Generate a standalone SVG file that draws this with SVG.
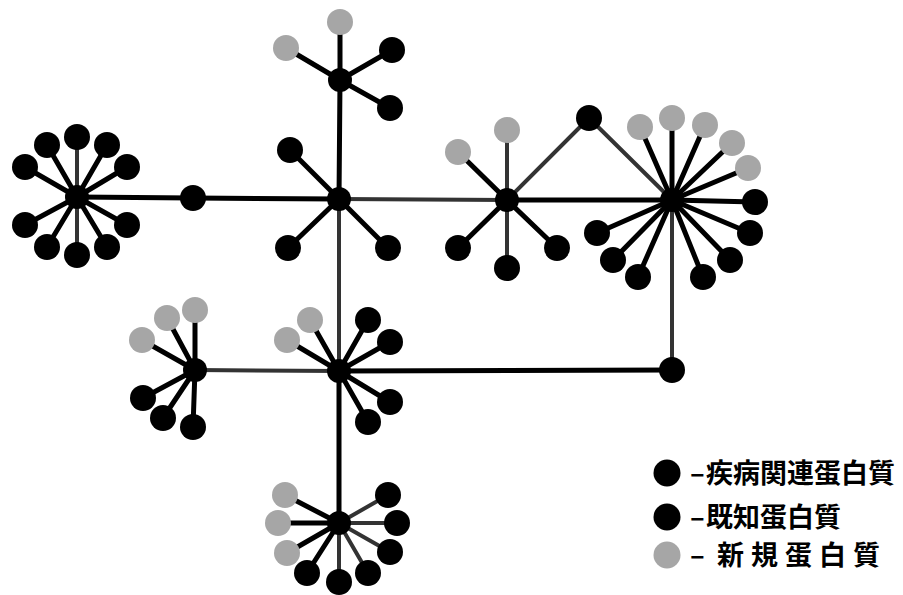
<svg xmlns="http://www.w3.org/2000/svg" width="903" height="595" viewBox="0 0 903 595">
<style>
.k{stroke:#000;stroke-width:5;fill:none;stroke-linecap:round}
.g{stroke:#333;stroke-width:4;fill:none;stroke-linecap:round}
.b{fill:#000}
.n{fill:#a6a6a6}
.h{fill:#000}
.t{font-family:"Noto Sans CJK JP","Noto Sans CJK SC",sans-serif;font-weight:700;font-size:27px;fill:#000}
</style>
<rect width="903" height="595" fill="#fff"/>
<g id="connectors">
<line class="g" x1="77" y1="197" x2="77" y2="137"/>
<line class="k" x1="77" y1="197" x2="47" y2="145"/>
<line class="k" x1="77" y1="197" x2="107" y2="145"/>
<line class="k" x1="77" y1="197" x2="25" y2="167"/>
<line class="k" x1="77" y1="197" x2="127" y2="167"/>
<line class="k" x1="77" y1="197" x2="25" y2="225"/>
<line class="k" x1="77" y1="197" x2="127" y2="225"/>
<line class="k" x1="77" y1="197" x2="47" y2="247"/>
<line class="g" x1="77" y1="197" x2="77" y2="255"/>
<line class="k" x1="77" y1="197" x2="107" y2="247"/>
<line class="k" x1="77" y1="197" x2="193" y2="198"/>
<line class="k" x1="193" y1="198" x2="339" y2="199"/>
<line class="k" x1="340" y1="80" x2="340" y2="22"/>
<line class="k" x1="340" y1="80" x2="286" y2="48"/>
<line class="k" x1="340" y1="80" x2="392" y2="50"/>
<line class="k" x1="340" y1="80" x2="390" y2="108"/>
<line class="k" x1="340" y1="80" x2="339" y2="199"/>
<line class="k" x1="339" y1="199" x2="290" y2="150"/>
<line class="k" x1="339" y1="199" x2="288" y2="248"/>
<line class="k" x1="339" y1="199" x2="388" y2="248"/>
<line class="g" x1="339" y1="199" x2="507" y2="200"/>
<line class="g" x1="339" y1="199" x2="339" y2="371"/>
<line class="k" x1="507" y1="200" x2="458" y2="152"/>
<line class="g" x1="507" y1="200" x2="507" y2="130"/>
<line class="k" x1="507" y1="200" x2="458" y2="248"/>
<line class="g" x1="507" y1="200" x2="507" y2="268"/>
<line class="k" x1="507" y1="200" x2="557" y2="248"/>
<line class="g" x1="507" y1="200" x2="589" y2="118"/>
<line class="k" x1="507" y1="200" x2="672" y2="200"/>
<line class="g" x1="589" y1="118" x2="672" y2="200"/>
<line class="k" x1="672" y1="200" x2="640" y2="127"/>
<line class="k" x1="672" y1="200" x2="672" y2="118"/>
<line class="k" x1="672" y1="200" x2="705" y2="125"/>
<line class="k" x1="672" y1="200" x2="732" y2="143"/>
<line class="k" x1="672" y1="200" x2="748" y2="168"/>
<line class="k" x1="672" y1="200" x2="755" y2="202"/>
<line class="k" x1="672" y1="200" x2="750" y2="233"/>
<line class="k" x1="672" y1="200" x2="730" y2="260"/>
<line class="k" x1="672" y1="200" x2="703" y2="277"/>
<line class="k" x1="672" y1="200" x2="638" y2="277"/>
<line class="k" x1="672" y1="200" x2="613" y2="260"/>
<line class="k" x1="672" y1="200" x2="597" y2="233"/>
<line class="g" x1="672" y1="200" x2="672" y2="370"/>
<line class="k" x1="195" y1="370" x2="142" y2="340"/>
<line class="k" x1="195" y1="370" x2="167" y2="318"/>
<line class="k" x1="195" y1="370" x2="195" y2="310"/>
<line class="k" x1="195" y1="370" x2="143" y2="398"/>
<line class="k" x1="195" y1="370" x2="163" y2="418"/>
<line class="k" x1="195" y1="370" x2="193" y2="427"/>
<line class="g" x1="195" y1="370" x2="339" y2="371"/>
<line class="k" x1="339" y1="371" x2="287" y2="340"/>
<line class="k" x1="339" y1="371" x2="310" y2="320"/>
<line class="k" x1="339" y1="371" x2="368" y2="320"/>
<line class="k" x1="339" y1="371" x2="390" y2="342"/>
<line class="k" x1="339" y1="371" x2="390" y2="402"/>
<line class="k" x1="339" y1="371" x2="368" y2="422"/>
<line class="k" x1="339" y1="371" x2="672" y2="370"/>
<line class="k" x1="339" y1="371" x2="339" y2="523"/>
<line class="k" x1="339" y1="523" x2="285" y2="495"/>
<line class="k" x1="339" y1="523" x2="278" y2="523"/>
<line class="k" x1="339" y1="523" x2="287" y2="553"/>
<line class="k" x1="339" y1="523" x2="307" y2="573"/>
<line class="g" x1="339" y1="523" x2="339" y2="582"/>
<line class="g" x1="339" y1="523" x2="368" y2="573"/>
<line class="g" x1="339" y1="523" x2="390" y2="552"/>
<line class="g" x1="339" y1="523" x2="397" y2="523"/>
<line class="g" x1="339" y1="523" x2="388" y2="495"/>
</g>
<g id="hubA"><circle class="h" cx="77" cy="197" r="12"/></g>
<g id="hubB"><circle class="h" cx="340" cy="80" r="12"/></g>
<g id="hubC"><circle class="h" cx="339" cy="199" r="12"/></g>
<g id="hubD"><circle class="h" cx="507" cy="200" r="12"/></g>
<g id="hubE"><circle class="h" cx="672" cy="200" r="12"/></g>
<g id="hubF"><circle class="h" cx="195" cy="370" r="12"/></g>
<g id="hubG"><circle class="h" cx="339" cy="371" r="12"/></g>
<g id="hubH"><circle class="h" cx="339" cy="523" r="12"/></g>
<g id="n1"><circle class="b" cx="193" cy="198" r="13"/></g>
<g id="n2"><circle class="b" cx="589" cy="118" r="13"/></g>
<g id="n3"><circle class="b" cx="672" cy="370" r="13"/></g>
<g id="a1"><circle class="b" cx="77" cy="137" r="13"/></g>
<g id="a2"><circle class="b" cx="47" cy="145" r="13"/></g>
<g id="a3"><circle class="b" cx="107" cy="145" r="13"/></g>
<g id="a4"><circle class="b" cx="25" cy="167" r="13"/></g>
<g id="a5"><circle class="b" cx="127" cy="167" r="13"/></g>
<g id="a6"><circle class="b" cx="25" cy="225" r="13"/></g>
<g id="a7"><circle class="b" cx="127" cy="225" r="13"/></g>
<g id="a8"><circle class="b" cx="47" cy="247" r="13"/></g>
<g id="a9"><circle class="b" cx="77" cy="255" r="13"/></g>
<g id="a10"><circle class="b" cx="107" cy="247" r="13"/></g>
<g id="b1"><circle class="n" cx="340" cy="22" r="13"/></g>
<g id="b2"><circle class="n" cx="286" cy="48" r="13"/></g>
<g id="b3"><circle class="b" cx="392" cy="50" r="13"/></g>
<g id="b4"><circle class="b" cx="390" cy="108" r="13"/></g>
<g id="c1"><circle class="b" cx="290" cy="150" r="13"/></g>
<g id="c2"><circle class="b" cx="288" cy="248" r="13"/></g>
<g id="c3"><circle class="b" cx="388" cy="248" r="13"/></g>
<g id="d1"><circle class="n" cx="458" cy="152" r="13"/></g>
<g id="d2"><circle class="n" cx="507" cy="130" r="13"/></g>
<g id="d3"><circle class="b" cx="458" cy="248" r="13"/></g>
<g id="d4"><circle class="b" cx="507" cy="268" r="13"/></g>
<g id="d5"><circle class="b" cx="557" cy="248" r="13"/></g>
<g id="e1"><circle class="n" cx="640" cy="127" r="13"/></g>
<g id="e2"><circle class="n" cx="672" cy="118" r="13"/></g>
<g id="e3"><circle class="n" cx="705" cy="125" r="13"/></g>
<g id="e4"><circle class="n" cx="732" cy="143" r="13"/></g>
<g id="e5"><circle class="n" cx="748" cy="168" r="13"/></g>
<g id="e6"><circle class="b" cx="755" cy="202" r="13"/></g>
<g id="e7"><circle class="b" cx="750" cy="233" r="13"/></g>
<g id="e8"><circle class="b" cx="730" cy="260" r="13"/></g>
<g id="e9"><circle class="b" cx="703" cy="277" r="13"/></g>
<g id="e10"><circle class="b" cx="638" cy="277" r="13"/></g>
<g id="e11"><circle class="b" cx="613" cy="260" r="13"/></g>
<g id="e12"><circle class="b" cx="597" cy="233" r="13"/></g>
<g id="f1"><circle class="n" cx="142" cy="340" r="13"/></g>
<g id="f2"><circle class="n" cx="167" cy="318" r="13"/></g>
<g id="f3"><circle class="n" cx="195" cy="310" r="13"/></g>
<g id="f4"><circle class="b" cx="143" cy="398" r="13"/></g>
<g id="f5"><circle class="b" cx="163" cy="418" r="13"/></g>
<g id="f6"><circle class="b" cx="193" cy="427" r="13"/></g>
<g id="g1"><circle class="n" cx="287" cy="340" r="13"/></g>
<g id="g2"><circle class="n" cx="310" cy="320" r="13"/></g>
<g id="g3"><circle class="b" cx="368" cy="320" r="13"/></g>
<g id="g4"><circle class="b" cx="390" cy="342" r="13"/></g>
<g id="g5"><circle class="b" cx="390" cy="402" r="13"/></g>
<g id="g6"><circle class="b" cx="368" cy="422" r="13"/></g>
<g id="h1"><circle class="n" cx="285" cy="495" r="13"/></g>
<g id="h2"><circle class="n" cx="278" cy="523" r="13"/></g>
<g id="h3"><circle class="n" cx="287" cy="553" r="13"/></g>
<g id="h4"><circle class="b" cx="307" cy="573" r="13"/></g>
<g id="h5"><circle class="b" cx="339" cy="582" r="13"/></g>
<g id="h6"><circle class="b" cx="368" cy="573" r="13"/></g>
<g id="h7"><circle class="b" cx="390" cy="552" r="13"/></g>
<g id="h8"><circle class="b" cx="397" cy="523" r="13"/></g>
<g id="h9"><circle class="b" cx="388" cy="495" r="13"/></g>
<g id="legend1"><circle class="b" cx="667" cy="473" r="13.5"/><text class="t" x="690" y="483">–</text><text class="t" x="706" y="483">疾病関連蛋白質</text></g>
<g id="legend2"><circle class="b" cx="667" cy="517" r="13.5"/><text class="t" x="690" y="527">–</text><text class="t" x="706" y="527">既知蛋白質</text></g>
<g id="legend3"><circle class="n" cx="667" cy="555" r="13.5"/><text class="t" x="690" y="565">–</text><text class="t" x="717" y="565" letter-spacing="7">新規蛋白質</text></g>
</svg>
